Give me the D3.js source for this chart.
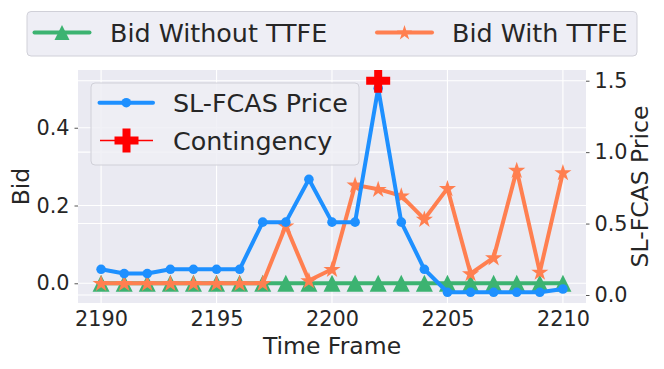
<!DOCTYPE html>
<html><head><meta charset="utf-8">
<script src="https://cdn.jsdelivr.net/npm/d3@7"></script>
<style>body{margin:0;background:#fff}svg{display:block}text{font-family:"DejaVu Sans",sans-serif;fill:#262626}</style>
</head><body><svg id="c" width="664" height="369"></svg>
<script>
const timeFrames = [2190,2191,2192,2193,2194,2195,2196,2197,2198,2199,2200,2201,2202,2203,2204,2205,2206,2207,2208,2209,2210];
const bidWithout = [0,0,0,0,0,0,0,0,0,0,0,0,0,0,0,0,0,0,0,0,0];
const bidWith = [0,0,0,0,0,0,0,0,0.148,0.007,0.036,0.253,0.242,0.225,0.165,0.244,0.025,0.066,0.291,0.029,0.285];
const price = [0.18,0.15,0.15,0.18,0.18,0.18,0.18,0.51,0.51,0.81,0.51,0.51,1.447,0.51,0.18,0.019,0.019,0.019,0.019,0.019,0.042];
const contingencyT = [2202];
const contingencyV = [1.5];
const xTicks = [2190,2195,2200,2205,2210];
const leftTicks = [0.0,0.2,0.4];
const rightTicks = [0.0,0.5,1.0,1.5];

const svg = d3.select("#c");
const L=78,R=586,T=70,B=303;
const x = d3.scaleLinear().domain([2189,2211]).range([L,R]);
const yL = d3.scaleLinear().domain([-0.0507,0.5485]).range([B,T]);
const yR = d3.scaleLinear().domain([-0.056,1.575]).range([B,T]);

svg.append("rect").attr("x",L).attr("y",T).attr("width",R-L).attr("height",B-T).attr("fill","#EAEAF2");
const defs = svg.append("defs");
defs.append("clipPath").attr("id","clip").append("rect").attr("x",L).attr("y",T).attr("width",R-L).attr("height",B-T);

const grid = svg.append("g").attr("stroke","#fff").attr("stroke-width",1.1);
xTicks.forEach(t=>grid.append("line").attr("x1",x(t)).attr("x2",x(t)).attr("y1",T).attr("y2",B));
leftTicks.forEach(t=>grid.append("line").attr("x1",L).attr("x2",R).attr("y1",yL(t)).attr("y2",yL(t)));
rightTicks.forEach(t=>grid.append("line").attr("x1",L).attr("x2",R).attr("y1",yR(t)).attr("y2",yR(t)));

const axL = d3.axisLeft(yL).tickValues(leftTicks).tickFormat(d3.format(".1f")).tickSize(3.5).tickPadding(5);
const axR = d3.axisRight(yR).tickValues(rightTicks).tickFormat(d3.format(".1f")).tickSize(3.5).tickPadding(5);
const axB = d3.axisBottom(x).tickValues(xTicks).tickFormat(d3.format("d")).tickSize(0).tickPadding(8);
function style(g){g.select(".domain").remove();g.selectAll("line").attr("stroke","#555");g.selectAll("text").attr("font-size",20.8).attr("fill","#262626").attr("font-family","DejaVu Sans");}
svg.append("g").attr("transform",`translate(${L},0)`).call(axL).call(style);
svg.append("g").attr("transform",`translate(${R},0)`).call(axR).call(style);
svg.append("g").attr("transform",`translate(0,${B})`).call(axB).call(style);

svg.append("text").attr("x",(L+R)/2).attr("y",354).attr("text-anchor","middle").attr("font-size",23.5).text("Time Frame");
svg.append("text").attr("transform",`translate(29,${(T+B)/2}) rotate(-90)`).attr("text-anchor","middle").attr("font-size",23.5).text("Bid");
svg.append("text").attr("transform",`translate(648,${(T+B)/2}) rotate(-90)`).attr("text-anchor","middle").attr("font-size",23.5).text("SL-FCAS Price");

const plot = svg.append("g").attr("clip-path","url(#clip)");
const green="#3CB371", orange="#FF7F50", blue="#1E90FF", red="#FF0000";
const starPath = (r)=>{let p=[];for(let i=0;i<10;i++){const a=-Math.PI/2+i*Math.PI/5;const rr=i%2?r*0.382:r;p.push([rr*Math.cos(a),rr*Math.sin(a)]);}return "M"+p.map(q=>q.join(",")).join("L")+"Z";};
const triPath = (s)=>`M0,${-s/2}L${-s/2},${s/2}L${s/2},${s/2}Z`;
const plusPath = (s)=>{const a=s/2,b=s/6;return `M${-b},${-a}H${b}V${-b}H${a}V${b}H${b}V${a}H${-b}V${b}H${-a}V${-b}H${-b}Z`;};

const lineL = d3.line().x((d,i)=>x(timeFrames[i])).y(d=>yL(d));
const lineR = d3.line().x((d,i)=>x(timeFrames[i])).y(d=>yR(d));

plot.append("path").attr("d",lineL(bidWithout)).attr("fill","none").attr("stroke",green).attr("stroke-width",4);
bidWithout.forEach((v,i)=>plot.append("path").attr("d",triPath(17)).attr("transform",`translate(${x(timeFrames[i])},${yL(v)})`).attr("fill",green));
plot.append("path").attr("d",lineL(bidWith)).attr("fill","none").attr("stroke",orange).attr("stroke-width",4).attr("stroke-linejoin","round");
bidWith.forEach((v,i)=>plot.append("path").attr("d",starPath(9)).attr("transform",`translate(${x(timeFrames[i])},${yL(v)+0.5})`).attr("fill",orange));
plot.append("path").attr("d",lineR(price)).attr("fill","none").attr("stroke",blue).attr("stroke-width",4).attr("stroke-linejoin","round");
price.forEach((v,i)=>plot.append("circle").attr("cx",x(timeFrames[i])).attr("cy",yR(v)).attr("r",4.8).attr("fill",blue));
contingencyT.forEach((t,i)=>plot.append("path").attr("d",plusPath(24)).attr("transform",`translate(${x(t)},${yR(contingencyV[i])})`).attr("fill",red));

const lg = svg.append("g");
lg.append("rect").attr("x",27).attr("y",11.5).attr("width",610).attr("height",44.5).attr("rx",4).attr("fill","#EEEEF5").attr("stroke","#D0D0D8").attr("stroke-width",1);
lg.append("line").attr("x1",34.5).attr("x2",89.5).attr("y1",32.5).attr("y2",32.5).attr("stroke",green).attr("stroke-width",4).attr("stroke-linecap","round");
lg.append("path").attr("d",triPath(15)).attr("transform","translate(62,32.5)").attr("fill",green);
lg.append("text").attr("x",110).attr("y",41.5).attr("font-size",25.4).text("Bid Without TTFE");
lg.append("line").attr("x1",377).attr("x2",432).attr("y1",32.5).attr("y2",32.5).attr("stroke",orange).attr("stroke-width",4).attr("stroke-linecap","round");
lg.append("path").attr("d",starPath(8)).attr("transform","translate(404.5,33)").attr("fill",orange);
lg.append("text").attr("x",452).attr("y",41.5).attr("font-size",25.4).text("Bid With TTFE");

const lg2 = svg.append("g");
lg2.append("rect").attr("x",91).attr("y",83).attr("width",268).attr("height",82).attr("rx",4).attr("fill","#EEEEF5").attr("fill-opacity",0.85).attr("stroke","#D0D0D8").attr("stroke-width",1);
lg2.append("line").attr("x1",99.5).attr("x2",153).attr("y1",102.7).attr("y2",102.7).attr("stroke",blue).attr("stroke-width",4).attr("stroke-linecap","round");
lg2.append("circle").attr("cx",126.3).attr("cy",102.7).attr("r",4.8).attr("fill",blue);
lg2.append("text").attr("x",173).attr("y",112).attr("font-size",25.4).text("SL-FCAS Price");
lg2.append("line").attr("x1",100).attr("x2",153).attr("y1",140.5).attr("y2",140.5).attr("stroke",red).attr("stroke-width",1.5);
lg2.append("path").attr("d",plusPath(24)).attr("transform","translate(126.5,140.5)").attr("fill",red);
lg2.append("text").attr("x",173).attr("y",150).attr("font-size",25.4).text("Contingency");
</script></body></html>
